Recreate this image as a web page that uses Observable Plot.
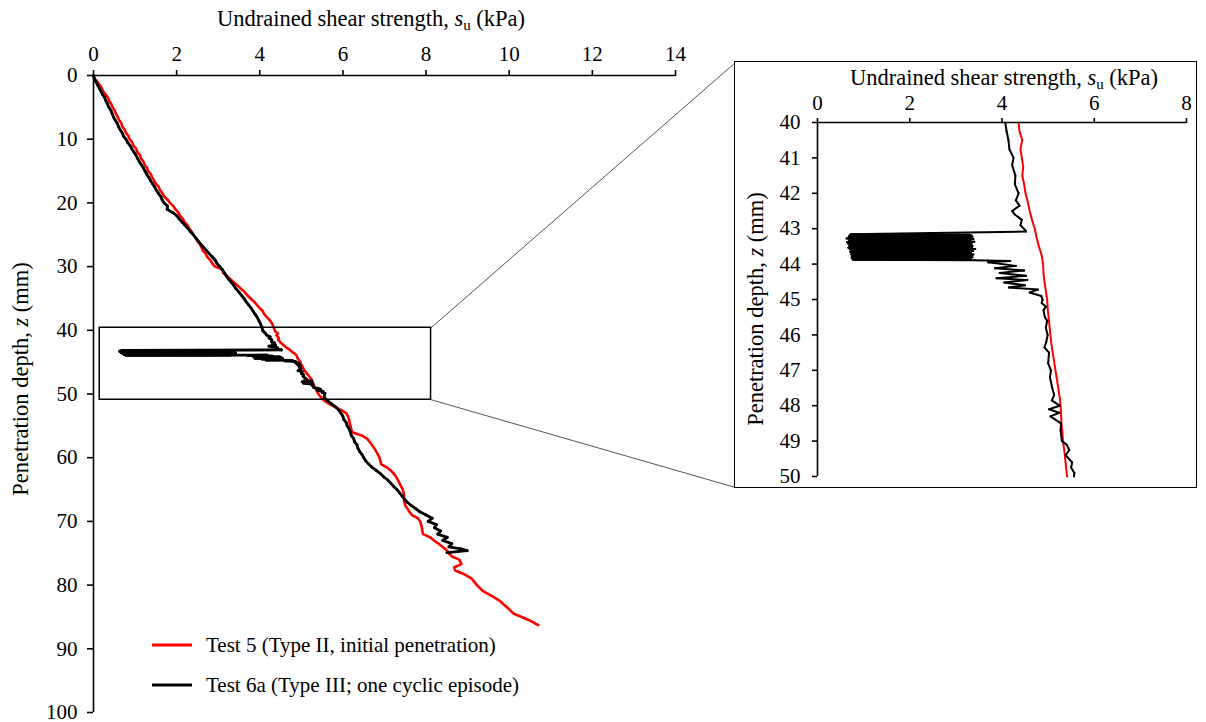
<!DOCTYPE html>
<html><head><meta charset="utf-8">
<script src="https://cdn.jsdelivr.net/npm/d3@7"></script>
<script src="https://cdn.jsdelivr.net/npm/@observablehq/plot@0.6"></script>
<style>
html,body{margin:0;padding:0;background:#fff;}
#wrap{position:relative;width:1206px;height:722px;overflow:hidden;background:#fff;font-family:"Liberation Serif","Times New Roman",serif;}
#wrap svg{position:absolute;}
#insetBorder{position:absolute;left:734px;top:61px;width:463px;height:427px;border:1.5px solid #000;box-sizing:border-box;pointer-events:none;}
</style></head>
<body><div id="wrap"></div>
<script>
// ---------- data ----------
const seriesNames = ["Test 5 (Type II, initial penetration)", "Test 6a (Type III; one cyclic episode)"];
const seriesColors = ["#ff0000", "#000000"];

const test5Depth = [0,0.5,1,1.5,2,2.5,3,3.5,4,4.5,5,5.5,6,6.5,7,7.5,8,8.5,9,9.5,10,10.5,11,11.5,12,12.5,13,13.5,14,14.5,15,15.5,16,16.5,17,17.5,18,18.5,19,19.5,20,20.5,21,21.5,22,22.5,23,23.5,24,24.5,25,25.5,26,26.5,27,27.5,28,28.5,29,29.5,30,30.4,31,31.5,32,32.5,33,33.5,34,34.5,35,35.5,36,36.5,37,37.5,38,38.5,39,39.5,40,40.25,40.5,40.75,41,41.25,41.5,41.75,42,42.25,42.5,42.75,43,43.25,43.5,43.75,44,44.25,44.5,44.75,45,45.25,45.5,45.75,46,46.25,46.5,46.75,47,47.25,47.5,47.75,48,48.25,48.5,48.75,49,49.25,49.5,49.75,50,50.5,51,51.5,52,52.5,53,53.5,54,54.5,55,55.5,56,56.5,57,57.5,58,58.5,59,59.5,60,60.5,61,61.5,62,62.5,63,63.5,64,64.5,65,65.5,66,66.5,67,67.5,68,68.5,69,69.5,70,70.5,71,71.5,72,72.5,73,73.5,74,74.6,75,75.5,76,76.7,77.2,77.7,78.3,79,79.5,80,80.5,81,81.5,81.9,82.5,83,83.5,84,84.5,85,85.6,86.3];
const test5Su = [0,0.03,0.09,0.15,0.20,0.23,0.29,0.35,0.38,0.43,0.46,0.51,0.54,0.58,0.62,0.67,0.69,0.75,0.78,0.84,0.87,0.93,0.96,1.03,1.05,1.12,1.14,1.20,1.23,1.29,1.31,1.38,1.41,1.46,1.50,1.57,1.60,1.66,1.70,1.78,1.84,1.92,1.97,2.04,2.08,2.15,2.19,2.26,2.30,2.36,2.40,2.46,2.50,2.56,2.60,2.63,2.70,2.74,2.81,2.86,2.92,3.10,3.12,3.22,3.30,3.38,3.47,3.55,3.64,3.70,3.78,3.86,3.93,4.00,4.07,4.11,4.18,4.25,4.30,4.33,4.36,4.38,4.44,4.40,4.43,4.46,4.44,4.48,4.51,4.56,4.60,4.65,4.71,4.75,4.80,4.86,4.89,4.90,4.92,4.95,4.98,4.99,5.01,5.03,5.05,5.07,5.10,5.13,5.16,5.19,5.22,5.25,5.27,5.28,5.29,5.31,5.32,5.35,5.37,5.39,5.41,5.47,5.54,5.66,5.80,5.95,6.08,6.12,6.15,6.16,6.18,6.20,6.22,6.45,6.58,6.64,6.70,6.75,6.80,6.84,6.88,6.90,6.92,7.05,7.15,7.22,7.28,7.32,7.36,7.40,7.44,7.46,7.47,7.47,7.48,7.50,7.55,7.60,7.66,7.80,7.86,7.88,7.90,7.91,7.93,8.10,8.19,8.30,8.40,8.51,8.55,8.62,8.80,8.85,8.68,8.70,8.92,9.10,9.16,9.22,9.30,9.38,9.52,9.63,9.78,9.86,9.95,10.03,10.11,10.30,10.51,10.70];

const test6aDepth = [0,0.5,1,1.5,2,2.5,3,3.5,4,4.5,5,5.5,6,6.5,7,7.5,8,8.5,9,9.5,10,10.5,11,11.5,12,12.5,13,13.5,14,14.5,15,15.5,16,16.5,17,17.5,18,18.5,19,19.5,20,20.5,21,21.5,22,22.5,23,23.5,24,24.5,25,25.5,26,26.5,27,27.5,28,28.5,29,29.5,30,30.5,31,31.5,32,32.5,33,33.5,34,34.5,35,35.5,36,36.5,37,37.5,38,38.5,39,39.5,
 40,40.25,40.5,40.75,41,41.2,41.5,41.75,42,42.2,42.35,42.5,42.6,42.75,42.9,43.05,43.08,43.12,43.16,
 43.17,43.18,43.19,43.20,43.21,43.22,43.23,43.24,43.25,43.26,43.27,43.28,43.29,43.30,43.31,43.32,43.33,43.34,43.35,43.36,43.37,43.38,43.39,43.40,43.41,43.42,43.43,43.44,43.45,43.46,43.47,43.48,43.49,43.50,43.51,43.52,43.53,43.54,43.55,43.56,43.57,43.58,43.59,43.60,43.61,43.62,43.63,43.64,43.65,43.66,43.67,43.68,43.69,43.70,43.71,43.72,43.73,43.74,43.75,43.76,43.77,43.78,43.79,43.80,43.81,43.82,43.83,43.84,43.85,43.86,43.87,43.88,43.89,
 43.91,43.95,44.05,44.12,44.18,44.25,44.33,44.40,44.45,44.52,44.60,44.66,44.72,44.80,44.90,45.0,45.1,45.2,45.3,45.5,45.6,45.8,46.0,46.2,46.35,46.5,46.8,47.0,47.2,47.5,47.7,47.85,48.0,48.1,48.2,48.3,48.5,48.7,49.0,49.1,49.25,49.4,49.6,49.75,49.9,50.0,
 50.5,51,51.5,52,52.5,53,53.5,54,54.5,55,55.5,56,56.5,57,57.5,58,58.5,59,59.5,60,60.5,61,61.5,62,62.5,63,63.5,64,64.5,65,65.5,66,66.5,67,67.5,68,68.5,69,69.5,70,70.5,71,71.5,72,72.5,73,73.5,74,74.3,74.6,74.9];
const test6aSu = [0,0.02,0.06,0.10,0.14,0.18,0.22,0.27,0.30,0.34,0.37,0.42,0.45,0.48,0.52,0.57,0.60,0.64,0.69,0.72,0.78,0.82,0.88,0.92,0.97,1.02,1.06,1.10,1.15,1.20,1.24,1.28,1.33,1.37,1.42,1.47,1.51,1.56,1.62,1.65,1.70,1.78,1.77,1.90,2.00,2.06,2.13,2.20,2.27,2.33,2.40,2.46,2.52,2.58,2.65,2.72,2.79,2.86,2.93,2.97,3.04,3.10,3.15,3.20,3.25,3.32,3.38,3.43,3.50,3.56,3.62,3.67,3.73,3.79,3.84,3.89,3.94,3.98,4.02,4.05,
 4.07,4.10,4.14,4.16,4.25,4.22,4.29,4.28,4.36,4.30,4.38,4.22,4.28,4.43,4.40,4.51,4.52,2.50,0.72,
 3.30,0.70,3.34,0.74,3.28,0.68,3.36,0.72,3.22,0.66,3.30,0.63,3.38,0.70,3.26,0.74,3.20,0.68,3.32,0.72,3.40,0.64,3.28,0.71,3.24,0.66,3.34,0.73,3.18,0.70,3.30,0.69,3.36,0.74,3.26,0.71,3.35,0.67,3.29,0.73,3.42,0.70,3.31,0.75,3.23,0.72,3.37,0.76,3.27,0.71,3.33,0.74,3.21,0.77,3.30,0.73,3.38,0.76,3.25,0.78,3.34,0.75,3.29,0.77,3.36,0.74,3.24,0.78,3.32,0.76,3.28,0.78,3.40,
 4.18,3.70,4.30,3.85,4.48,3.95,4.52,3.88,4.55,4.05,4.50,4.15,4.78,4.60,4.85,4.88,4.86,4.95,4.90,4.93,4.98,4.95,4.99,4.96,4.92,5.02,5.00,5.06,5.04,5.09,5.13,5.08,5.25,5.02,5.24,5.05,5.28,5.27,5.30,5.40,5.46,5.38,5.52,5.50,5.57,5.56,
 5.55,5.62,5.72,5.82,5.90,5.95,6.00,6.02,6.08,6.10,6.15,6.18,6.20,6.26,6.28,6.34,6.36,6.40,6.46,6.50,6.55,6.62,6.70,6.80,6.90,6.98,7.08,7.15,7.22,7.30,7.36,7.42,7.48,7.55,7.64,7.75,7.85,8.00,8.15,8.05,8.25,8.20,8.35,8.28,8.51,8.40,8.62,8.55,8.83,8.99,8.50];

const mainXTicks = [0,2,4,6,8,10,12,14];
const mainYTicks = [0,10,20,30,40,50,60,70,80,90,100];
const insetXTicks = [0,2,4,6,8];
const insetYTicks = [40,41,42,43,44,45,46,47,48,49,50];
const zoomWindowSu = [0.15, 8.12];
const zoomWindowDepth = [39.6, 50.9];

// ---------- build ----------
const test5 = test5Depth.map((z,i)=>({z, su:test5Su[i]}));
const test6a = test6aDepth.map((z,i)=>({z, su:test6aSu[i]}));
// Test 6a as consecutive segments (the cyclic part reverses direction every sample)
const test6aSeg = test6a.slice(1).map((d,i)=>({x1:test6a[i].su, y1:test6a[i].z, x2:d.su, y2:d.z}));
const zoomWin = [{x1:zoomWindowSu[0], x2:zoomWindowSu[1], y1:zoomWindowDepth[0], y2:zoomWindowDepth[1]}];

const W = 1206, H = 722;
const M = {left:93, right:531, top:75, bottom:10};
const xMain = Plot.scale({x:{domain:[0,14], range:[M.left, W - M.right]}});
const yMain = Plot.scale({y:{domain:[0,100], range:[M.top, H - M.bottom]}});
const insetBox = {left:735, top:62, width:461, height:425};
const connectors = [
  {x1:zoomWindowSu[1], y1:zoomWindowDepth[0], x2:xMain.invert(insetBox.left), y2:yMain.invert(insetBox.top)},
  {x1:zoomWindowSu[1], y1:zoomWindowDepth[1], x2:xMain.invert(insetBox.left), y2:yMain.invert(insetBox.top + insetBox.height)}
];
const FONT = "Liberation Serif, Times New Roman, serif";
const TITLE_SIZE = 22.5;

const mainPlot = Plot.plot({
  width:W, height:H,
  marginLeft:M.left, marginRight:M.right, marginTop:M.top, marginBottom:M.bottom,
  style:{fontFamily:FONT, fontSize:"21px", color:"#000", background:"transparent", overflow:"visible"},
  x:{domain:[0,14]},
  y:{domain:[0,100], reverse:true},
  marks:[
    Plot.link(connectors, {x1:"x1", y1:"y1", x2:"x2", y2:"y2", stroke:"#555", strokeWidth:1}),
    Plot.line(test5, {x:"su", y:"z", stroke:seriesColors[0], strokeWidth:2.6, strokeLinejoin:"round"}),
    Plot.link(test6aSeg, {x1:"x1", y1:"y1", x2:"x2", y2:"y2", stroke:seriesColors[1], strokeWidth:2.8, strokeLinecap:"round"}),
    Plot.rect(zoomWin, {x1:"x1", x2:"x2", y1:"y1", y2:"y2", fill:"none", stroke:"#000", strokeWidth:1.5}),
    Plot.ruleY([0], {strokeWidth:1.6}),
    Plot.ruleX([0], {strokeWidth:1.6}),
    Plot.axisX(mainXTicks, {anchor:"top", tickSize:6, tickPadding:9, label:null, strokeWidth:1.6, fontSize:21}),
    Plot.axisY(mainYTicks, {anchor:"left", tickSize:6, tickPadding:10, label:null, strokeWidth:1.6, fontSize:21})
  ]
});
mainPlot.style.left = "0px"; mainPlot.style.top = "0px";
document.getElementById("wrap").appendChild(mainPlot);

function suTitle(sel, x, y) {
  const t = sel.append("text").attr("x", x).attr("y", y).attr("text-anchor","middle")
    .attr("font-family", FONT).attr("font-size", TITLE_SIZE).attr("fill", "#000");
  t.append("tspan").text("Undrained shear strength, ");
  t.append("tspan").attr("font-style","italic").text("s");
  t.append("tspan").attr("font-size", 15).attr("dy", 4).text("u");
  t.append("tspan").attr("dy", -4).text(" (kPa)");
}
function zLabel(sel, x, y) {
  const t = sel.append("text").attr("transform", `translate(${x},${y}) rotate(-90)`).attr("text-anchor","middle")
    .attr("font-family", FONT).attr("font-size", TITLE_SIZE).attr("fill", "#000");
  t.append("tspan").text("Penetration depth, ");
  t.append("tspan").attr("font-style","italic").text("z");
  t.append("tspan").text(" (mm)");
}

const ms = d3.select(mainPlot);
suTitle(ms, 371, 26);
zLabel(ms, 28, 379);
// legend
const lg = ms.append("g");
seriesNames.forEach((name, i) => {
  const cy = 645 + i * 40;
  lg.append("line").attr("x1", 152).attr("x2", 192).attr("y1", cy).attr("y2", cy)
    .attr("stroke", seriesColors[i]).attr("stroke-width", 3);
  lg.append("text").attr("x", 206).attr("y", cy + 7).attr("text-anchor", "start")
    .attr("font-family", FONT).attr("font-size", 21).attr("fill", "#000").text(name);
});

// ---------- inset ----------
const inRange = d => d.z >= 40 && d.z <= 50;
const segInRange = d => d.y1 >= 40 && d.y2 >= 40 && d.y1 <= 50 && d.y2 <= 50;
const IM = {left:82, right:10, top:60, bottom:11};
const insetPlot = Plot.plot({
  width:insetBox.width, height:insetBox.height,
  marginLeft:IM.left, marginRight:IM.right, marginTop:IM.top, marginBottom:IM.bottom,
  style:{fontFamily:FONT, fontSize:"21px", color:"#000", background:"#fff"},
  x:{domain:[0,8]},
  y:{domain:[40,50], reverse:true},
  marks:[
    Plot.line(test5.filter(inRange), {x:"su", y:"z", stroke:seriesColors[0], strokeWidth:2, strokeLinejoin:"round"}),
    Plot.link(test6aSeg.filter(segInRange), {x1:"x1", y1:"y1", x2:"x2", y2:"y2", stroke:seriesColors[1], strokeWidth:2, strokeLinecap:"round"}),
    Plot.ruleY([40], {strokeWidth:1.6}),
    Plot.ruleX([0], {strokeWidth:1.6}),
    Plot.axisX(insetXTicks, {anchor:"top", tickSize:5, tickPadding:8, label:null, strokeWidth:1.6, fontSize:21}),
    Plot.axisY(insetYTicks, {anchor:"left", tickSize:5, tickPadding:12, label:null, strokeWidth:1.6, fontSize:21})
  ]
});
insetPlot.style.left = insetBox.left + "px"; insetPlot.style.top = insetBox.top + "px";
document.getElementById("wrap").appendChild(insetPlot);
const is = d3.select(insetPlot);
suTitle(is, 269, 23);
zLabel(is, 28, 247);
const border = document.createElement("div");
border.id = "insetBorder";
document.getElementById("wrap").appendChild(border);
</script>
</body></html>
